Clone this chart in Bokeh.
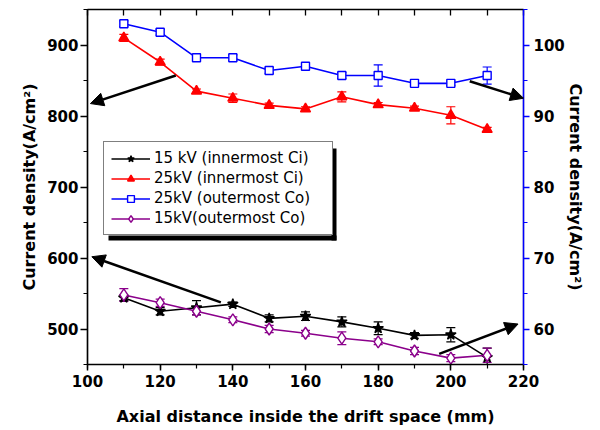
from bokeh.plotting import figure
from bokeh.models import (Range1d, LinearAxis, SingleIntervalTicker, FixedTicker, ColumnDataSource,
                          Whisker, TeeHead, Legend, LegendItem, Arrow, NormalHead, BoxAnnotation)
from bokeh.embed import file_html
from bokeh.resources import INLINE

# ---------------- data ----------------
x_mm = [110, 120, 130, 140, 150, 160, 170, 180, 190, 200, 210]

ci15 = [544, 525, 530, 535, 515, 518, 510, 501, 491, 492, 460]          # left axis
ci15_err = [4, 5, 10, 3, 5, 6, 7, 9, 4, 10, 13]
ci25 = [910, 876, 835, 825, 815, 810, 827, 816, 811, 801, 781]          # left axis
ci25_err = [5, 4, 3, 6, 3, 3, 7, 3, 3, 12, 3]
co25 = [103.0, 101.8, 98.2, 98.2, 96.4, 97.0, 95.7, 95.7, 94.6, 94.6, 95.7]  # right axis
co25_err = [0.4, 0.4, 0.3, 0.4, 0.4, 0.4, 0.4, 1.5, 0.3, 0.3, 1.2]
co15 = [64.8, 63.7, 62.5, 61.3, 60.0, 59.4, 58.7, 58.2, 56.9, 55.9, 56.3]    # right axis
co15_err = [0.9, 0.5, 0.5, 0.4, 0.5, 0.4, 0.9, 0.4, 0.5, 0.5, 1.0]

labels = ["15 kV (innermost Ci)", "25kV (innermost Ci)", "25kV (outermost Co)", "15kV(outermost Co)"]

top_minor_ticks = [100, 110, 120, 130, 140, 150, 160, 170, 180, 190, 200, 210, 220]

# arrow annotations (x_start, y_start, x_end, y_end) in data units
arrows_left = [(124.3, 857, 100.8, 817.5), (136.7, 537.5, 101.2, 601.8)]
arrows_right = [(205.2, 94.9, 220.0, 92.5), (196.8, 56.5, 218.5, 60.7)]

X_RANGE = (100, 220)
YL_RANGE = (450, 950)
YR_RANGE = (55, 105)

FONT = "DejaVu Sans"
W, H = 598, 428
BL, BT = 87, 9
FW, FH = 436, 355
BR, BB = W - BL - FW, H - BT - FH

p = figure(width=W, height=H, output_backend="svg", toolbar_location=None,
           x_range=Range1d(*X_RANGE), y_range=Range1d(*YL_RANGE),
           min_border_left=BL, min_border_right=BR, min_border_top=BT, min_border_bottom=BB)
p.extra_y_ranges = {"right": Range1d(*YR_RANGE)}
p.grid.visible = False
p.outline_line_color = "black"
p.outline_line_width = 1.2
p.background_fill_color = "white"
p.border_fill_color = "white"


def style_axis(ax, color="black"):
    ax.axis_line_color = color
    ax.axis_line_width = 1.5
    ax.major_tick_line_color = color
    ax.minor_tick_line_color = color
    ax.major_tick_line_width = 1.5
    ax.minor_tick_line_width = 1.2
    ax.major_label_text_font = FONT
    ax.major_label_text_font_style = "bold"
    ax.major_label_text_font_size = "15px"
    ax.major_label_text_color = "black"
    ax.axis_label_text_font = FONT
    ax.axis_label_text_font_style = "bold"
    ax.axis_label_text_font_size = "16px"
    ax.axis_label_text_color = "black"


# bottom
xa = p.xaxis[0]
xa.ticker = SingleIntervalTicker(interval=20, num_minor_ticks=2)
style_axis(xa)
xa.major_tick_in = 0
xa.major_tick_out = 6
xa.minor_tick_in = 0
xa.minor_tick_out = 4
xa.major_label_standoff = 4
xa.axis_label = "Axial distance inside the drift space (mm)"
xa.axis_label_standoff = 17

# left
ya = p.yaxis[0]
ya.ticker = SingleIntervalTicker(interval=100, num_minor_ticks=2)
style_axis(ya)
ya.major_tick_in = 0
ya.major_tick_out = 7
ya.minor_tick_in = 0
ya.minor_tick_out = 4
ya.major_label_standoff = 2
ya.axis_label = "Current density(A/cm²)"
ya.axis_label_standoff = 5

# right
yr = LinearAxis(y_range_name="right", ticker=SingleIntervalTicker(interval=10, num_minor_ticks=2))
style_axis(yr, "blue")
yr.major_tick_in = 0
yr.major_tick_out = 6
yr.minor_tick_in = 0
yr.minor_tick_out = 4
yr.major_label_standoff = 4
yr.axis_label = "Current density(A/cm²)"
yr.axis_label_standoff = -2
p.add_layout(yr, "right")

# top (inward ticks only, no labels)
ta = LinearAxis(ticker=FixedTicker(ticks=[], minor_ticks=top_minor_ticks))
style_axis(ta)
ta.major_tick_in = 0
ta.major_tick_out = 0
ta.minor_tick_in = 6
ta.minor_tick_out = 0
ta.minor_tick_line_width = 1.3
ta.major_label_standoff = 0
ta.axis_label_standoff = 0
p.add_layout(ta, "above")

# ---------------- series ----------------
series = [
    (ci15, ci15_err, "black", "star", 11, "black", "default", labels[0]),
    (ci25, ci25_err, "red", "triangle", 10, "red", "default", labels[1]),
    (co25, co25_err, "blue", "square", 8, "white", "right", labels[2]),
    (co15, co15_err, "#8b008b", "diamond", 12, "white", "right", labels[3]),
]

items = []
for vals, errs, col, mk, sz, fill, rng, lab in series:
    src = ColumnDataSource(dict(x=x_mm, y=vals,
                                upper=[v + e for v, e in zip(vals, errs)],
                                lower=[v - e for v, e in zip(vals, errs)]))
    w = Whisker(source=src, base="x", upper="upper", lower="lower", line_color=col, line_width=1.2,
                upper_head=TeeHead(size=9, line_color=col, line_width=1.2),
                lower_head=TeeHead(size=9, line_color=col, line_width=1.2),
                y_range_name=rng)
    p.add_layout(w)
    ln = p.line("x", "y", source=src, line_color=col, line_width=1.6, y_range_name=rng)
    sc = p.scatter("x", "y", source=src, marker=mk, size=sz, line_color=col, line_width=1.4,
                   fill_color=fill, y_range_name=rng)
    items.append(LegendItem(label=lab, renderers=[ln, sc]))

# ---------------- legend with shadow ----------------
LEG_X, LEG_Y = 16, 129  # screen offset of legend box from frame bottom-left
LEG_W, LEG_H = 228, 92
PAD, GW, STAND = 7, 39, 4
legend = Legend(items=items, location=(LEG_X, LEG_Y), orientation="vertical",
                label_text_font=FONT, label_text_font_size="15px", label_text_color="black",
                glyph_width=GW, glyph_height=17, label_height=17, label_standoff=STAND,
                label_width=LEG_W - 2 * PAD - GW - STAND,
                spacing=2, padding=PAD, margin=0,
                border_line_color="black", border_line_width=1,
                background_fill_color="white", background_fill_alpha=1)

SH = 5


def sx(px):
    return X_RANGE[0] + px / FW * (X_RANGE[1] - X_RANGE[0])


def sy(py):
    return YL_RANGE[0] + py / FH * (YL_RANGE[1] - YL_RANGE[0])


p.add_layout(BoxAnnotation(left=sx(LEG_X + LEG_W), right=sx(LEG_X + LEG_W + SH),
                           bottom=sy(LEG_Y - SH), top=sy(LEG_Y + LEG_H - SH),
                           fill_color="black", fill_alpha=1, line_alpha=0))
p.add_layout(BoxAnnotation(left=sx(LEG_X + SH), right=sx(LEG_X + LEG_W + SH),
                           bottom=sy(LEG_Y - SH), top=sy(LEG_Y),
                           fill_color="black", fill_alpha=1, line_alpha=0))
p.add_layout(legend, "center")

# ---------------- arrows ----------------
for (x0, y0, x1, y1) in arrows_left:
    p.add_layout(Arrow(x_start=x0, y_start=y0, x_end=x1, y_end=y1, line_width=2.5, line_color="black",
                       end=NormalHead(size=13, fill_color="black", line_color="black")))
for (x0, y0, x1, y1) in arrows_right:
    p.add_layout(Arrow(x_start=x0, y_start=y0, x_end=x1, y_end=y1, line_width=2.5, line_color="black",
                       y_range_name="right",
                       end=NormalHead(size=13, fill_color="black", line_color="black")))

open("out.html", "w").write(file_html(p, INLINE))
